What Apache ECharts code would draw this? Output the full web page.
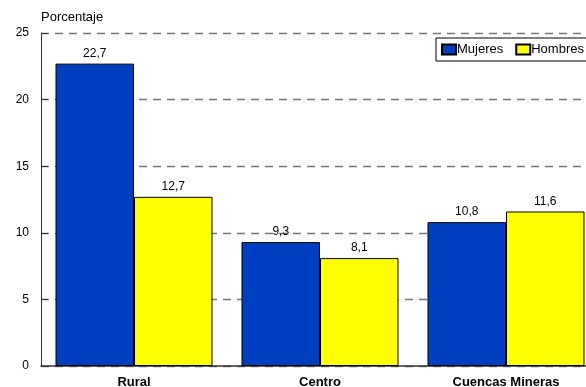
<!DOCTYPE html>
<html><head><meta charset="utf-8">
<script src="https://cdn.jsdelivr.net/npm/echarts@6/dist/echarts.min.js"></script>
<style>html,body{margin:0;padding:0;background:#fff;overflow:hidden;width:586px;height:387px}#c{width:604px;height:387px}</style>
</head><body><div id="c"></div>
<script>
const categories = ['Rural', 'Centro', 'Cuencas Mineras'];
const mujeres = [22.7, 9.3, 10.8];
const hombres = [12.7, 8.1, 11.6];
const yTicks = [0, 5, 10, 15, 20, 25];

const chart = echarts.init(document.getElementById('c'), null, {renderer: 'canvas'});
const fmt = p => String(p.value).replace('.', ',');
const lbl = {show: true, position: 'top', distance: 4, color: '#000', fontFamily: 'Arial, Liberation Sans', fontSize: 12, formatter: fmt};
chart.setOption({
  animation: false,
  textStyle: {fontFamily: 'Arial, Liberation Sans'},
  legend: {
    left: 436, top: 38, orient: 'horizontal',
    itemWidth: 14, itemHeight: 10, itemGap: 12,
    padding: [5, 8, 5, 5],
    borderColor: '#000', borderWidth: 1, backgroundColor: '#fff',
    textStyle: {fontSize: 13, color: '#000', padding: [0, 0, 0, -4]},
    data: [{name: 'Mujeres', icon: 'rect'}, {name: 'Hombres', icon: 'rect'}]
  },
  grid: {left: 41, top: 33, width: 558, height: 333, outerBoundsMode: 'none', containLabel: false},
  xAxis: {
    type: 'category', data: categories,
    axisLine: {lineStyle: {color: '#333', width: 1.5}},
    axisTick: {show: false},
    axisLabel: {fontWeight: 'bold', fontSize: 13, color: '#000', margin: 10}
  },
  yAxis: {
    type: 'value', min: 0, max: 25, interval: 5,
    name: 'Porcentaje', nameLocation: 'end', nameGap: 9,
    nameTextStyle: {fontSize: 13, color: '#000', align: 'left', padding: [0, 0, 0, 0]},
    axisLine: {show: true, lineStyle: {color: '#333', width: 1}},
    axisTick: {show: true, inside: true, length: 7, lineStyle: {color: '#333'}},
    axisLabel: {fontSize: 12, color: '#000', margin: 12, formatter: v => yTicks.includes(v) ? String(v) : ''},
    splitLine: {show: true, lineStyle: {color: '#777', type: [8, 6], width: 1.3}}
  },
  series: [
    {name: 'Mujeres', type: 'bar', data: mujeres, barGap: '0%', barCategoryGap: '15.6%',
     itemStyle: {color: '#0040C0', borderColor: '#000', borderWidth: 1}, label: lbl},
    {name: 'Hombres', type: 'bar', data: hombres,
     itemStyle: {color: '#FFFF00', borderColor: '#000', borderWidth: 1}, label: lbl}
  ]
});
</script></body></html>
